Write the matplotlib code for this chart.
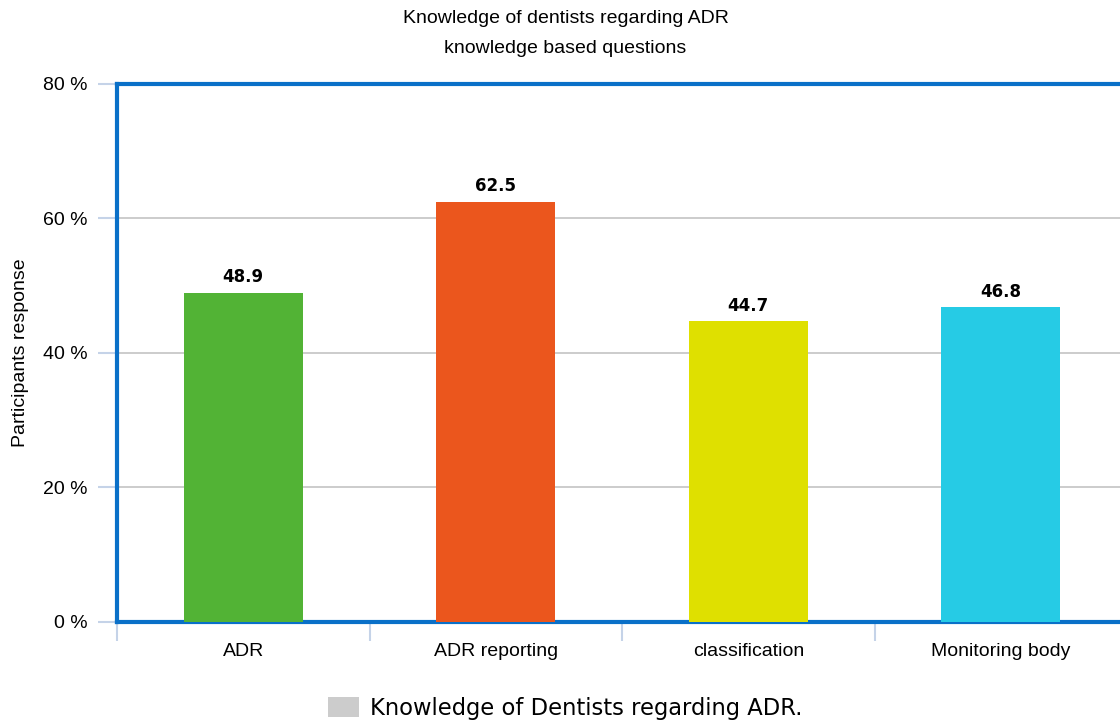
import matplotlib.pyplot as plt
from matplotlib.patches import Patch

# Knowledge of dentists regarding ADR (percent of participants)
categories = ['ADR', 'ADR reporting', 'classification', 'Monitoring body']
values = [48.9, 62.5, 44.7, 46.8]
colors = ['#52b335', '#eb561d', '#dfe000', '#26cbe5']
yticks = [0, 20, 40, 60, 80]

plt.rcParams['font.family'] = ['Liberation Sans', 'DejaVu Sans']

fig = plt.figure(figsize=(11.2, 7.24), dpi=100)
ax = fig.add_axes([0.1045, 0.1409, 0.9018, 0.7431])

x = range(len(categories))
bars = ax.bar(x, values, width=0.47, color=colors, zorder=3)

for b, v in zip(bars, values):
    ax.text(b.get_x() + b.get_width() / 2, v + 1.0, f'{v}', ha='center', va='bottom',
            fontsize=12, fontweight='bold', family='DejaVu Sans', zorder=4)

ax.set_xlim(-0.5, len(categories) - 0.5)
ax.set_ylim(0, 80)
ax.set_yticks(yticks)
ax.set_yticklabels([f'{t} %' for t in yticks], fontsize=14)
ax.set_xticks(x)
ax.set_xticklabels(categories, fontsize=14)
ax.tick_params(axis='x', length=0, pad=15)
ax.tick_params(axis='y', length=14, width=1.5, color='#c5d3e8', pad=7)

# category boundary ticks below the axis
ax.set_xticks([i - 0.5 for i in range(len(categories) + 1)], minor=True)
ax.tick_params(axis='x', which='minor', length=14, width=1.5, color='#c5d3e8', direction='out')

ax.yaxis.grid(True, color='#c4c4c4', linewidth=1.2, zorder=0)
ax.get_ygridlines()[0].set_visible(False)

for s in ['left', 'top', 'bottom']:
    ax.spines[s].set_color('#0a70c8')
    ax.spines[s].set_linewidth(3)
ax.spines['right'].set_visible(False)

ax.set_ylabel('Participants response', fontsize=14)
ax.yaxis.set_label_coords(-0.087, 0.5)

fig.text(0.505, 0.974, 'Knowledge of dentists regarding ADR', ha='center', va='center', fontsize=14)
fig.text(0.505, 0.933, 'knowledge based questions', ha='center', va='center', fontsize=14)

handle = Patch(facecolor='#cccccc', edgecolor='none')
fig.legend([handle], ['Knowledge of Dentists regarding ADR.'], loc='center',
           bbox_to_anchor=(0.505, 0.022), frameon=False,
           prop={'family': 'DejaVu Sans', 'size': 16.3}, handlelength=1.35, handleheight=1.0,
           handletextpad=0.5)

fig.savefig('out.png', dpi=100)
